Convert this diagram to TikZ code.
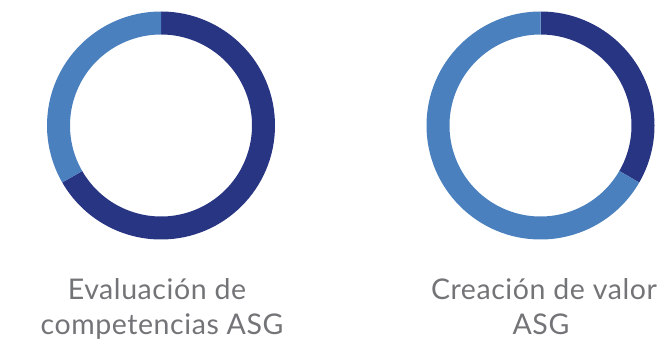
\documentclass[tikz,border=0pt]{standalone}
\usepackage{fontspec}
\setmainfont{Lato}[LetterSpace=2]
\definecolor{darkseg}{HTML}{283583}
\definecolor{lightseg}{HTML}{4B80BF}
\definecolor{labelgray}{HTML}{737477}
\newcommand{\donutseg}[5]{% cx, cy, start, end, color
  \begin{scope}[shift={(#1,#2)}]
  \fill[#5] (#3:114) arc[start angle=#3,end angle=#4,radius=114]
     -- (#4:91) arc[start angle=#4,end angle=#3,radius=91] -- cycle;
  \end{scope}}
\begin{document}
\begin{tikzpicture}[x=1pt,y=1pt,
  lbl/.style={anchor=base,inner sep=0pt,text=labelgray,font=\fontsize{28.5}{34}\selectfont}]
\useasboundingbox (0,0) rectangle (667,345);
% left donut
\donutseg{161}{219.5}{90}{-150}{darkseg}
\donutseg{161}{219.5}{90}{210}{lightseg}
% right donut
\donutseg{540.5}{219.5}{90}{-30}{darkseg}
\donutseg{540.5}{219.5}{90}{330}{lightseg}
% labels
\node[lbl] (evalA) at (157,45) {Evaluación de};
\node[lbl] (evalB) at (162,10) {competencias ASG};
\node[lbl] (creaA) at (544,45) {Creación de valor};
\node[lbl] (creaB) at (541,10) {ASG};
\end{tikzpicture}
\end{document}
